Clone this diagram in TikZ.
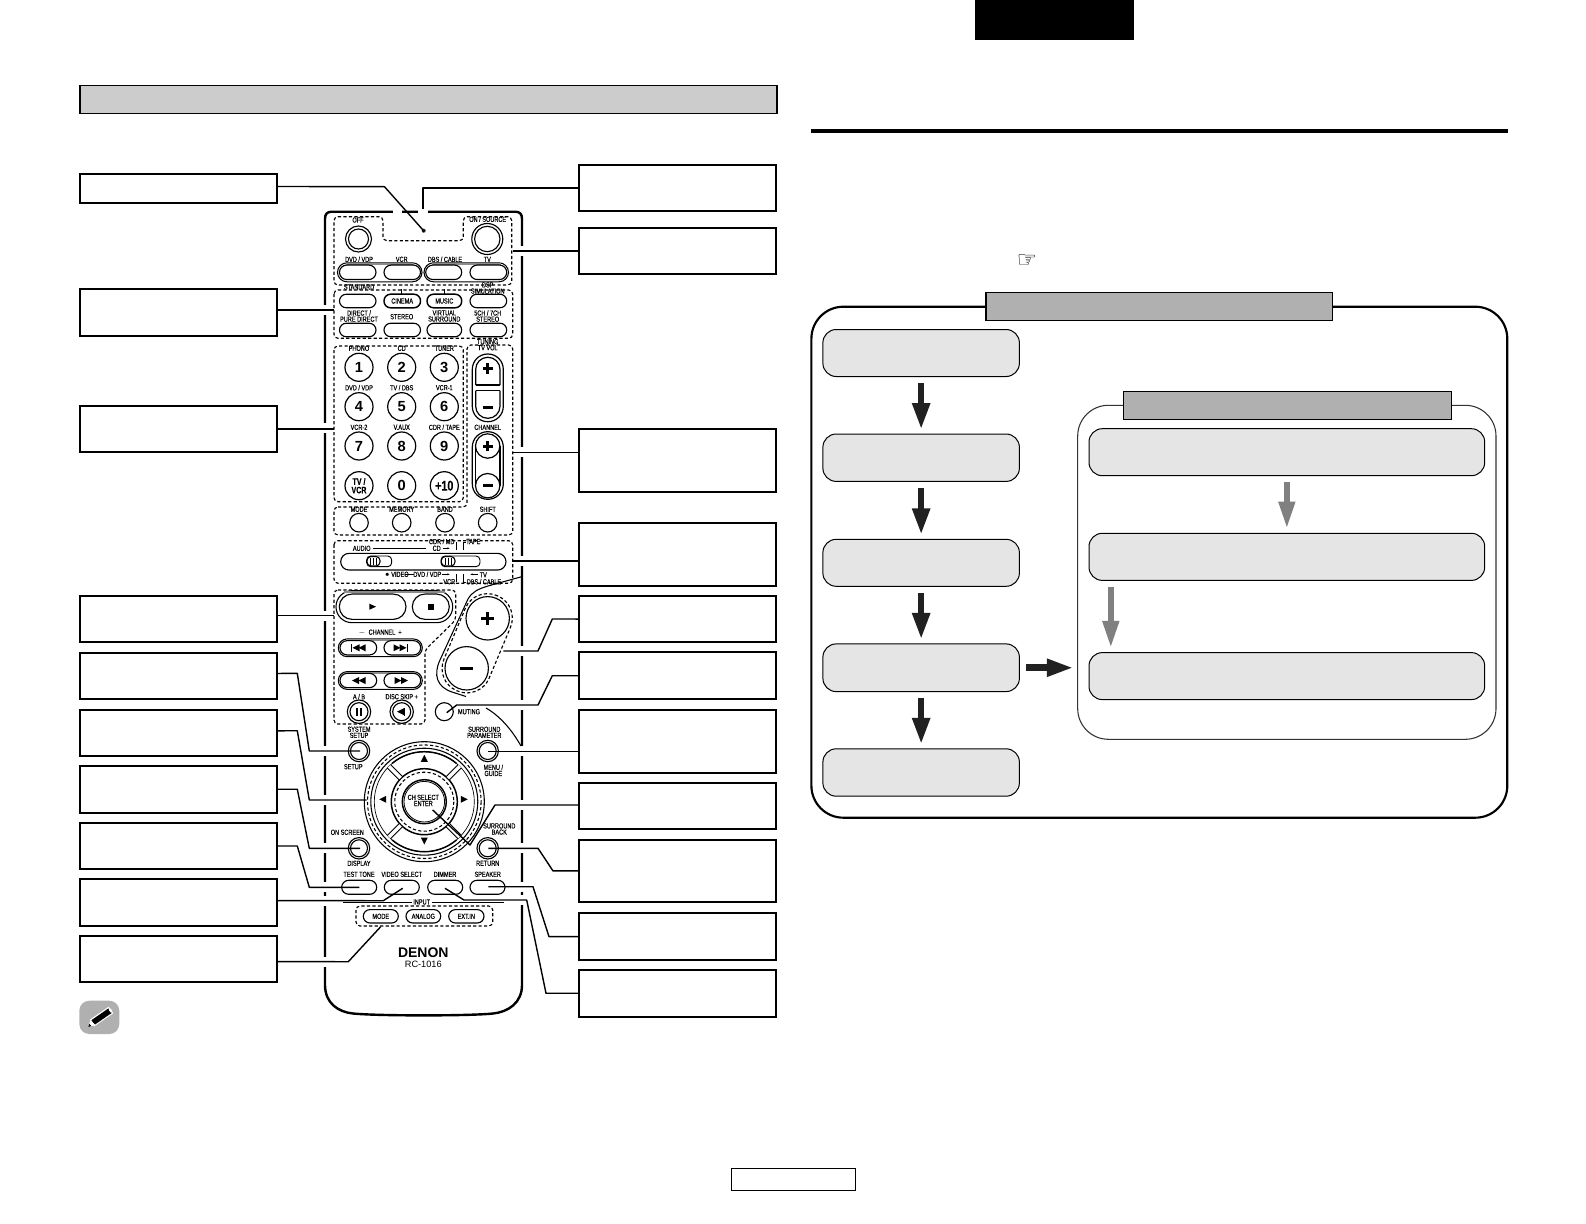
\documentclass[tikz,border=0pt]{standalone}
\usepackage{fontspec}
\setmainfont{Liberation Sans}
\newfontfamily\remfont[FakeStretch=0.76,FakeBold=0.25]{Liberation Sans}
\newfontfamily\iconfont{DejaVu Sans}
\usetikzlibrary{arrows.meta,calc}
\newcounter{tn}
\tikzset{
  labelbox/.style={draw=black,line width=1.5pt,fill=white,inner sep=0pt,outer sep=0pt},
  conn/.style={draw=black,line width=1.05pt,line join=round},
  flowbox/.style={draw=black,line width=.75pt,fill=black!10,rounded corners=10pt,inner sep=0pt,outer sep=0pt},
  titlebar/.style={draw=black,line width=.9pt,fill=black!31,inner sep=0pt,outer sep=0pt},
  headbar/.style={draw=black,line width=.8pt,fill=black!20,inner sep=0pt,outer sep=0pt},
  darrow/.style={draw=black!87,line width=4.9pt,-{Triangle[width=12.4pt,length=20pt]},shorten >=3.2pt,shorten <=5pt},
  garrow/.style={draw=black!50,line width=4.1pt,-{Triangle[width=11.8pt,length=20pt]},shorten >=3.8pt,shorten <=5pt},
  rlab/.style={font=\remfont\fontsize{5.5pt}{4.6pt}\selectfont,align=center,inner sep=0pt,text=black},
  dig/.style={font=\bfseries\fontsize{11pt}{10pt}\selectfont,align=center,inner sep=0pt},
  dashgrp/.style={draw=black,line width=.85pt,dash pattern=on 2.4pt off 1.7pt,rounded corners=3pt},
  ringb/.style={draw=black,line width=.8pt,fill=white},
  pillb/.style={draw=black,line width=.85pt,fill=white},
}
% label boxes: name, x1, y1, x2, y2
\newcommand\lbox[5]{\node[labelbox,minimum width={(#4-#2)*.75pt},minimum height={(#5-#3)*.75pt}] (#1) at ({(#2+#4)/2},{(#3+#5)/2}) {};}
\newcommand\flow[5]{\node[flowbox,minimum width={(#4-#2)*.75pt},minimum height={(#5-#3)*.75pt}] (#1) at ({(#2+#4)/2},{(#3+#5)/2}) {};}
\newcommand\tbar[5]{\node[titlebar,minimum width={(#4-#2)*.75pt},minimum height={(#5-#3)*.75pt}] (#1) at ({(#2+#4)/2},{(#3+#5)/2}) {};}
% remote text
\newcommand\rl[3]{\stepcounter{tn}\node[rlab] (t\thetn) at (#1,#2) {#3};}
\newcommand\dg[3]{\stepcounter{tn}\node[dig] (t\thetn) at (#1,#2) {#3};}
% pill: x1,x2,yc,h
\newcommand\pill[4]{\draw[pillb,rounded corners={(#4)*.375pt-.01pt}] (#1,{#3-(#4)/2}) rectangle (#2,{#3+(#4)/2});}
% ring around two pills
\newcommand\ringp[4]{\draw[ringb,rounded corners={(#4)*.375pt-.01pt}] (#1,{#3-(#4)/2}) rectangle (#2,{#3+(#4)/2});
 \draw[black!45,line width=1.3pt] ({#1+8},{#3-(#4)/2+1.3}) -- ({#2-8},{#3-(#4)/2+1.3});}
% double circle button
\newcommand\dbtn[4]{\draw[line width=.85pt,fill=white] (#1,#2) circle[radius=#3]; \draw[line width=.85pt] (#1,#2) circle[radius=#4];}
\newcommand\cbtn[3]{\draw[line width=.85pt,fill=white] (#1,#2) circle[radius=#3];}
% triangle: centre x, y, half-length dx (sign=direction), half-height dy
\newcommand\trh[4]{\fill ({#1-(#3)},{#2-(#4)}) -- ({#1+(#3)},#2) -- ({#1-(#3)},{#2+(#4)}) -- cycle;}
\newcommand\trv[4]{\fill ({#1-(#3)},{#2-(#4)}) -- (#1,{#2+(#4)}) -- ({#1+(#3)},{#2-(#4)}) -- cycle;}
\begin{document}
\begin{tikzpicture}[x=.75pt,y=-.75pt]
\useasboundingbox (0,0) rectangle (1586,1224);
\fill[white] (0,0) rectangle (1586,1224);
% page furniture
\fill[black] (975,0) rectangle (1134,39.5);
\node[headbar,minimum width={697*.75pt},minimum height={27.8*.75pt}] (hdr) at (428.5,99.7) {};
\draw[line width=3pt] (811,130.5) -- (1507.5,130.5);
\node[draw=black,line width=.8pt,fill=white,inner sep=0pt,outer sep=0pt,minimum width={124*.75pt},minimum height={22*.75pt}] (pageno) at (793.5,1179.5) {};
% pencil icon
\fill[black!31,rounded corners=7.5pt] (79.3,1000.7) rectangle (119.3,1034);
\draw[white,line width=6pt] (92,1023) -- (111,1010);
\draw[black,line width=4.2pt] (93,1022.5) -- (110,1010.7);
\fill[white] (88.3,1027) -- (90.5,1020.5) -- (95.5,1025) -- cycle;
\fill[black] (88.3,1027) -- (89.3,1024) -- (91.5,1026) -- cycle;
\fill[white] (108.6,1009.8) -- (110.5,1008.5) -- (112.5,1011) -- (110.7,1012.5) -- cycle;
% hand
\node[inner sep=0pt,font=\iconfont\bfseries\fontsize{17pt}{17pt}\selectfont] (hand) at (1027,261) {\char"261E};

% ---------- Left labels
\lbox{L1}{80}{174}{277}{202.7}
\lbox{L2}{80}{289.3}{277}{335.8}
\lbox{L3}{80}{405.6}{277}{452.1}
\lbox{L4}{80}{595.8}{277}{642.3}
\lbox{L5}{80}{653.3}{277}{699}
\lbox{L6}{80}{710}{277}{755.7}
\lbox{L7}{80}{765.7}{277}{812.7}
\lbox{L8}{80}{822.7}{277}{869.3}
\lbox{L9}{80}{879}{277}{925.5}
\lbox{L10}{80}{935.6}{277}{982.1}
% ---------- Right labels
\lbox{R1}{578.6}{164.9}{775.8}{211.4}
\lbox{R2}{578.6}{227.6}{775.8}{274.1}
\lbox{R3}{578.6}{428.9}{775.8}{491.6}
\lbox{R4}{578.6}{522.9}{775.8}{585.7}
\lbox{R5}{578.6}{595.8}{775.8}{642.3}
\lbox{R6}{578.6}{652.4}{775.8}{699}
\lbox{R7}{578.6}{710}{775.8}{772.8}
\lbox{R8}{578.6}{782.9}{775.8}{829.4}
\lbox{R9}{578.6}{839.5}{775.8}{902.3}
\lbox{R10}{578.6}{913.4}{775.8}{959.9}
\lbox{R11}{578.6}{970}{775.8}{1016.5}

% ---------- Remote body
\draw[line width=1.8pt,fill=white,line join=round]
 (325,985) -- (325,219) .. controls (325,214) and (327,211.7) .. (332,211.7) -- (515,211.7)
 .. controls (520,211.7) and (522,214) .. (522,219) -- (522,985)
 .. controls (522,1003) and (508,1012) .. (493,1013.5)
 .. controls (470,1016) and (378,1016) .. (353,1013.5)
 .. controls (338,1012) and (325,1003) .. (325,985) -- cycle;
\foreach \yy in {310,428.3,615.7,751,800,848.3,887.3,900.7,961.7}
  {\fill[white] (322,\yy-5) rectangle (328,\yy+5);}
\foreach \yy in {250.8,452.3,561,651,705,751.3,805,848.3,886.7,900}
  {\fill[white] (519,\yy-5) rectangle (525,\yy+5);}
\fill[white] (393,208) rectangle (402,215);
\fill[white] (418,208) rectangle (428,215);

% panel lines of the body
\draw[line width=.8pt] (521.7,576.7) -- (488,586) .. controls (478,589) and (472,592) .. (468,599)
 -- (440,660) .. controls (433,675) and (437,687) .. (452,692) -- (466,696.5);
\draw[line width=.8pt] (486,708) .. controls (500,716) and (512,730) .. (521,746);

% ---------- Dashed groups
\draw[dashgrp] (334,216.7) -- (383,216.7) -- (383,240.7) -- (463.3,240.7) -- (463.3,216.7) -- (511.7,216.7) -- (511.7,285) -- (334,285) -- cycle;
\draw[dashgrp] (334,290) rectangle (512.7,338.3);
\draw[dashgrp] (334,346) rectangle (463.3,501.7);
\draw[dashgrp] (334,507) -- (467,507) -- (467,345) -- (512.7,345) -- (512.7,535) -- (334,535) -- cycle;
\draw[dashgrp] (334,540.7) rectangle (512.7,583.3);
\draw[dashgrp] (334,590) -- (455.7,590) -- (455.7,620) -- (425,650) -- (425,724) -- (334,724) -- cycle;
\draw[dashgrp] (356,906) rectangle (492.7,926);

% ---------- Top block
\fill[black!80] (423.7,230.7) circle[radius=2];
\draw[line width=.6pt,fill=white] (423.7,230.7) circle[radius=1];
\rl{358}{220}{OFF}
\rl{487.7}{219.3}{ON / SOURCE}
\dbtn{358.5}{239}{13}{10}
\dbtn{487.3}{239}{15.5}{12.7}
\rl{359}{259.3}{DVD / VDP}\rl{401.7}{259.3}{VCR}\rl{445}{259.3}{DBS / CABLE}\rl{487.3}{259.3}{TV}
\ringp{337.5}{422}{272.3}{19}
\ringp{424}{508.5}{272.3}{19}
\pill{339.5}{376}{272.3}{14.5}
\pill{384}{420.5}{272.3}{14.5}
\pill{425.7}{461.7}{272.3}{14.5}
\pill{470}{506.7}{272.3}{14.5}
% surround block
\rl{359}{287}{STANDARD}
\rl{487.7}{288}{DSP\\SIMULATION}
\draw[line width=.7pt] (401.7,289) -- (401.7,295);
\draw[line width=.7pt] (444.3,289) -- (444.3,295);
\pill{339.5}{376}{301}{13.5}
\draw[pillb,line width=1.1pt,rounded corners=4.9pt] (384,294.2) rectangle (420.5,307.8);
\draw[pillb,line width=1.1pt,rounded corners=4.9pt] (427,294.2) rectangle (461.7,307.8);
\pill{470}{506.7}{301}{13.5}
\rl{402.2}{301}{CINEMA}
\rl{444.3}{301}{MUSIC}
\rl{359}{316}{DIRECT /\\PURE DIRECT}
\rl{401.7}{316.7}{STEREO}
\rl{444.3}{316}{VIRTUAL\\SURROUND}
\rl{487.7}{316}{5CH / 7CH\\STEREO}
\pill{339.5}{376}{330}{13.5}
\pill{384}{420.5}{330}{13.5}
\pill{427}{461.7}{330}{13.5}
\pill{470}{506.7}{330}{13.5}

% ---------- Number pad
\rl{359}{348.3}{PHONO}\rl{401.7}{348.3}{CD}\rl{444.3}{348.3}{TUNER}
\rl{359}{387.7}{DVD / VDP}\rl{401.7}{387.7}{TV / DBS}\rl{444.3}{387.7}{VCR-1}
\rl{359}{427.3}{VCR-2}\rl{401.7}{427.3}{V.AUX}\rl{444.3}{427.3}{CDR / TAPE}
\foreach \xx in {359,401.7,444.3} \foreach \yy in {367.3,406.7,446,485.7}
  {\draw[line width=.9pt,fill=white] (\xx,\yy) circle[radius=14];}
\dg{359}{367.3}{1}\dg{401.7}{367.3}{2}\dg{444.3}{367.3}{3}
\dg{359}{406.7}{4}\dg{401.7}{406.7}{5}\dg{444.3}{406.7}{6}
\dg{359}{446}{7}\dg{401.7}{446}{8}\dg{444.3}{446}{9}
\dg{401.7}{485.7}{0}
\node[dig,font=\bfseries\remfont\fontsize{7pt}{6.4pt}\selectfont] (tvcr) at (359,485.7) {TV /\\VCR};
\node[dig,font=\bfseries\remfont\fontsize{10.5pt}{10pt}\selectfont] (tplus) at (444.3,485.7) {+10};

% ---------- TV VOL / CHANNEL
\rl{487.7}{341.7}{TUNING}
\rl{487.7}{347.7}{TV VOL}
\draw[line width=.9pt,fill=white,rounded corners=11.5pt] (472.3,354) rectangle (503.3,421.7);
\draw[line width=.9pt,rounded corners=9pt] (475.7,385) -- (475.7,357.3) -- (500,357.3) -- (500,385);
\draw[line width=.9pt] (475.7,385) -- (500,385);
\draw[line width=.9pt,rounded corners=9pt] (475.7,390.7) -- (475.7,418.3) -- (500,418.3) -- (500,390.7);
\draw[line width=.9pt] (475.7,390.7) -- (500,390.7);
\rl{487.7}{427.3}{CHANNEL}
\draw[line width=.9pt,fill=white,rounded corners=11.5pt] (472.3,431.7) rectangle (503.3,499.3);
\draw[line width=.9pt] (475.5,446) -- (475.5,485.7) (499.9,446) -- (499.9,485.7);
\draw[line width=.9pt,fill=white] (487.7,446) circle[radius=12.2];
\draw[line width=.9pt,fill=white] (487.7,485.7) circle[radius=12.2];
\fill (482.7,366.8) rectangle (492.7,369.8);\fill (486.2,363) rectangle (489.2,373.6);
\fill (482.7,406.3) rectangle (492.7,409.1);
\fill (482.7,444.5) rectangle (492.7,447.5);\fill (486.2,441) rectangle (489.2,451);
\fill (482.7,484.3) rectangle (492.7,487.1);
% mode row
\rl{359}{509.3}{MODE}\rl{401.7}{509.3}{MEMORY}\rl{445}{509.3}{BAND}\rl{487.7}{509.3}{SHIFT}
\cbtn{359}{522.7}{9.3}\cbtn{401.7}{522.7}{9.3}\cbtn{445}{522.7}{9.3}\cbtn{487.7}{522.7}{9.3}

% ---------- Slider
\pill{340.7}{506}{561.7}{16.7}
\draw[line width=.7pt,rounded corners=3pt,fill=white] (366.7,556) rectangle (391.7,566.7);
\draw[line width=.7pt,rounded corners=3pt,fill=white] (441,556) rectangle (480,566.7);
\draw[line width=.8pt,rounded corners=3pt,fill=white] (367,556.5) rectangle (380,566);
\draw[line width=.8pt,rounded corners=3pt,fill=white] (441.3,556.5) rectangle (455,566);
\foreach \xx in {370.5,373.5,376.5,445,448,451}{\draw[line width=.5pt] (\xx,557.5) -- (\xx,565);}
\rl{361.7}{548.3}{AUDIO}\rl{436.7}{548.3}{CD}
\draw[line width=.55pt] (373.3,548.3) -- (426,548.3);
\draw[line width=.55pt,-{Latex[length=2pt]}] (442.5,548.3) -- (450,548.3);
\rl{441.7}{541.5}{CDR / MD}\rl{473.3}{541.5}{TAPE}
\draw[line width=.55pt] (456,550) -- (456,542) (463.3,550) -- (463.3,542) -- (466,542);
\rl{396.7}{574.3}{$\bullet$ VIDEO}\rl{427.3}{574.3}{DVD / VDP}\rl{483.3}{574.8}{TV}
\draw[line width=.55pt] (405,574.3) -- (414,574.3);
\draw[line width=.55pt,-{Latex[length=2pt]}] (442,574.3) -- (450,574.3);
\draw[line width=.55pt,-{Latex[length=2pt]}] (478,574.3) -- (470,574.3);
\rl{449.3}{581.7}{VCR}\rl{484}{581.7}{DBS / CABLE}
\draw[line width=.55pt] (456.5,582) -- (456.5,574) (463.3,574) -- (463.3,582) -- (466,582);

% ---------- Transport
\ringp{336}{452.7}{606.7}{32}
\pill{339.3}{406}{606.7}{25.3}
\pill{412.3}{449.3}{606.7}{25.3}
\trh{372.7}{606.7}{3.3}{3}
\fill (427.7,603.7) rectangle (433.7,609.7);
\rl{380}{632.7}{$-$\ \ CHANNEL\ \ +}
\ringp{338.3}{422.3}{647.8}{17.7}
\pill{340}{376.7}{647.8}{14.3}
\pill{384}{420.7}{647.8}{14.3}
\fill (351.2,643.5) rectangle (352.4,652);
\trh{356}{647.8}{-3.5}{3.5}\trh{362}{647.8}{-3.5}{3.5}
\trh{397}{647.8}{3.5}{3.5}\trh{403}{647.8}{3.5}{3.5}
\fill (407,643.5) rectangle (408.2,652);
\ringp{338.3}{422.3}{680.5}{17.7}
\pill{340}{376.7}{680.5}{14.3}
\pill{384}{420.7}{680.5}{14.3}
\trh{355.5}{680.5}{-3.5}{3.5}\trh{362}{680.5}{-3.5}{3.5}
\trh{398}{680.5}{3.5}{3.5}\trh{404.5}{680.5}{3.5}{3.5}
\rl{359}{696.7}{A / B}\rl{401.7}{696.7}{DISC SKIP +}
\dbtn{359}{711.7}{11.7}{9}
\dbtn{401.7}{711.7}{11.7}{9}
\fill (356,708) rectangle (358,715.5);\fill (360,708) rectangle (362,715.5);
\trh{400.5}{711.7}{-3.5}{3.5}\fill (404,708) rectangle (405.2,715.5);

% ---------- Volume capsule
\begin{scope}[shift={(487.7,618.3)},rotate=247.2]
  \draw[dashgrp,rounded corners=18pt] (-24.5,-24.5) rectangle (78.7,24.5);
\end{scope}
\cbtn{487.7}{618.3}{21.7}
\cbtn{466.7}{668.3}{21.7}
\fill (481,616.8) rectangle (494.4,620);\fill (486,611.6) rectangle (489.3,625);
\fill (460,666.8) rectangle (473.4,670);

% muting
\cbtn{444.3}{711.7}{9}
\rl{469}{711.7}{MUTING}

% ---------- Setup buttons
\rl{359}{732.3}{SYSTEM\\SETUP}
\dbtn{359}{751}{10.7}{8.5}
\rl{353.3}{766.7}{SETUP}
\rl{484.3}{732.3}{SURROUND\\PARAMETER}
\dbtn{487.7}{751}{10.7}{8.5}
\rl{493.3}{770.3}{MENU /\\GUIDE}
\rl{347.3}{832.3}{ON SCREEN}
\dbtn{359}{848.3}{10.7}{8.5}
\rl{359}{863.3}{DISPLAY}
\rl{499.3}{829}{SURROUND\\BACK}
\dbtn{487.7}{848.3}{10.7}{8.5}
\rl{487.7}{863.3}{RETURN}

% ---------- Wheel
\coordinate (wc) at (424.3,801.7);
\draw[line width=.8pt,fill=white] (wc) circle[radius=60];
\draw[line width=.8pt,dash pattern=on 2.4pt off 1.7pt] (wc) circle[radius=56.8];
\draw[line width=.8pt] (wc) circle[radius=53.5];
\draw[line width=.5pt] (wc) circle[radius=50];
\foreach \aa in {230,50}{\draw[line width=1.1pt] ($(wc)+(\aa:50)$) arc[start angle=\aa,end angle=\aa+80,radius=50];}
\draw[line width=1.1pt] (wc) circle[radius=33];
\draw[line width=.8pt,dash pattern=on 2.4pt off 1.7pt] (wc) circle[radius=29.5];
\foreach \aa in {45,135,225,315}{
  \draw[line width=.8pt,double=white,double distance=2.6pt] ($(wc)+(\aa:33.5)$) -- ($(wc)+(\aa:50)$);}
\draw[line width=1.1pt,fill=white] (wc) circle[radius=22];
\draw[line width=.6pt] (wc) circle[radius=20.3];
\trv{424.3}{758.3}{3.5}{-3.5}
\trv{424.3}{841}{3.5}{3.5}
\trh{382.7}{799.3}{-3.5}{3.5}
\trh{464.3}{799.3}{3.5}{3.5}
\rl{423.3}{800.4}{CH SELECT\\ENTER}

% ---------- Bottom rows
\rl{359}{874.3}{TEST TONE}\rl{401.7}{874.3}{VIDEO SELECT}\rl{445}{874.3}{DIMMER}\rl{487.7}{874.3}{SPEAKER}
\pill{341.7}{376.7}{887.3}{14}
\pill{384.3}{419.3}{887.3}{14}
\pill{427.7}{462.7}{887.3}{14}
\pill{470}{505}{887.3}{14}
\draw[line width=.7pt] (343.3,902.3) -- (411.7,902.3) (431.7,902.3) -- (504,902.3);
\rl{421.7}{902}{INPUT}
\pill{363.3}{398.3}{916.3}{13.4}
\pill{406}{440.7}{916.3}{13.4}
\pill{448.7}{484}{916.3}{13.4}
\rl{380.8}{916.3}{MODE}\rl{423.3}{916.3}{ANALOG}\rl{466.3}{916.3}{EXT.IN}
\node[inner sep=0pt,font=\bfseries\fontsize{10.5pt}{10pt}\selectfont] (denon) at (423.3,952.7) {DENON};
\node[inner sep=0pt,font=\fontsize{6.9pt}{6.9pt}\selectfont] (model) at (423.3,964.7) {RC-1016};

% ---------- Connectors
\draw[conn] ([yshift=1.4pt]L1.east) -- (384.5,186.7) -- (423,230);
\draw[conn] (R1.west) -- ++(-155.6,0) -- (423,209);
\draw[conn] (R2.west) -- ++(-65.5,0);
\draw[conn] ([yshift=1.9pt]L2.east) -- ++(57,0);
\draw[conn,line width=1.5pt] (L3.east) -- ++(57,0);
\draw[conn] ([yshift=5.7pt]R3.west) -- ++(-65.6,0);
\draw[conn,line width=1.6pt] ([yshift=-5pt]R4.west) -- ++(-65.6,0);
\draw[conn] ([yshift=2.5pt]L4.east) -- ++(57,0);
\draw[conn] (R5.west) -- (552.3,619) -- (538,651) -- (503.3,651);
\draw[conn] (R6.west) -- (552.3,675.7) -- (538,705) -- (456.7,705) -- (446.7,712.7);
\draw[conn] ([yshift=-7.4pt]R7.west) -- ++(-90.3,0);
\draw[conn] ([yshift=2pt]L5.east) -- (297.3,673.3) -- (309.3,751) -- (360,751);
\draw[conn] ([yshift=1.5pt]L6.east) -- (297.3,730.7) -- (309.3,800) -- (366.7,800);
\draw[conn] (L7.east) -- (297.3,789.2) -- (309.3,848.3) -- (360,848.3);
\draw[conn] (L8.east) -- (297.3,846) -- (309.3,887.3) -- (359.3,887.3);
\draw[conn] ([yshift=1.2pt]L9.east) -- (383.3,900.7) -- (402.7,888.3);
\draw[conn] ([yshift=-2.1pt]L10.east) -- (348.3,961.7) -- (380.7,926.7);
\draw[conn] ([yshift=.9pt]R8.west) -- (495,805) -- (470,845) -- (432.7,810);
\draw[conn] (R9.west) -- (553,870.9) -- (538,848.3) -- (488.3,848.3);
\draw[conn] (R10.west) -- (549,936.65) -- (533,886.7) -- (488.3,886.7);
\draw[conn] (R11.west) -- (546,993.25) -- (526.7,900) -- (464,900) -- (445,888.3);

% ---------- Flow chart
\draw[line width=1.6pt,rounded corners=24pt] (811.4,306.7) rectangle (1507.3,817.7);
\tbar{T1}{985.9}{292.6}{1332.5}{320.4}
\node[draw=black!80,line width=.8pt,rounded corners=23pt,inner sep=0pt,outer sep=0pt,minimum width={(1496-1077.7)*.75pt},minimum height={(739.3-405.3)*.75pt}] (inner) at ({(1496+1077.7)/2},{(739.3+405.3)/2}) {};
\tbar{T2}{1123.3}{391.7}{1451.3}{419.3}
\flow{F1}{822.9}{329.5}{1019.4}{376.5}
\flow{F2}{822.9}{434}{1019.4}{481.4}
\flow{F3}{822.9}{539.3}{1019.4}{586.3}
\flow{F4}{822.9}{643.9}{1019.4}{691.6}
\flow{F5}{822.9}{748.8}{1019.4}{796.2}
\flow{G1}{1089}{428.7}{1484.7}{475.7}
\flow{G2}{1089}{533.3}{1484.7}{580.4}
\flow{G3}{1089}{652.6}{1484.7}{699.6}
\draw[darrow] (F1.south) -- (F2.north);
\draw[darrow] (F2.south) -- (F3.north);
\draw[darrow] (F3.south) -- (F4.north);
\draw[darrow] (F4.south) -- (F5.north);
\draw[darrow] (F4.east) -- (F4.east -| inner.west);
\draw[garrow] (G1.south) -- (G2.north);
\coordinate (g2a) at (1110.8,580.4);
\coordinate (g3a) at (1110.8,652.6);
\draw[garrow] (g2a) -- (g3a);
\end{tikzpicture}
\end{document}
